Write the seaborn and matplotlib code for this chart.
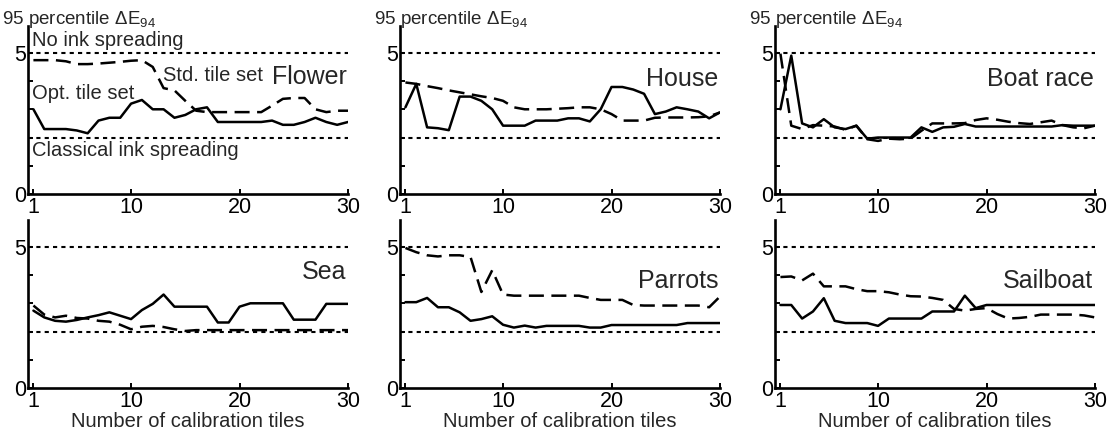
import numpy as np
import pandas as pd
import matplotlib
matplotlib.use("Agg")
import matplotlib.pyplot as plt
import seaborn as sns

sns.set_style("ticks")
plt.rcParams['font.family'] = ['Liberation Sans', 'DejaVu Sans']
plt.rcParams['mathtext.default'] = 'regular'

# ---------------- data ----------------
tiles = list(range(1, 31))
panels = ["Flower", "House", "Boat race", "Sea", "Parrots", "Sailboat"]

flower_opt = [3.0, 2.3, 2.3, 2.3, 2.25, 2.15, 2.6, 2.7, 2.7, 3.2, 3.33, 3.0, 3.0, 2.7, 2.8,
              3.0, 3.07, 2.55, 2.55, 2.55, 2.55, 2.55, 2.6, 2.45, 2.45, 2.55, 2.7, 2.55, 2.45, 2.55]
flower_std = [4.74, 4.74, 4.74, 4.7, 4.6, 4.6, 4.62, 4.65, 4.68, 4.72, 4.74, 4.5, 3.75, 3.67, 3.3,
              2.95, 2.9, 2.9, 2.9, 2.9, 2.9, 2.9, 3.13, 3.37, 3.4, 3.4, 3.0, 2.9, 2.95, 2.95]

house_opt = [3.07, 3.9, 2.36, 2.33, 2.26, 3.45, 3.45, 3.3, 3.0, 2.42, 2.42, 2.42, 2.6, 2.6, 2.6,
             2.68, 2.68, 2.57, 3.0, 3.79, 3.79, 3.7, 3.55, 2.83, 2.92, 3.07, 3.0, 2.92, 2.68, 2.89]
house_std = [3.95, 3.9, 3.82, 3.75, 3.67, 3.6, 3.53, 3.46, 3.4, 3.3, 3.07, 3.0, 3.0, 3.0, 3.02,
             3.04, 3.07, 3.07, 3.0, 2.83, 2.6, 2.6, 2.6, 2.7, 2.71, 2.71, 2.71, 2.72, 2.75, 2.89]

boat_opt = [3.0, 4.9, 2.5, 2.36, 2.65, 2.36, 2.3, 2.42, 1.96, 2.0, 2.0, 2.0, 2.0, 2.36, 2.2,
            2.36, 2.38, 2.48, 2.39, 2.39, 2.39, 2.39, 2.39, 2.39, 2.39, 2.39, 2.44, 2.42, 2.42, 2.42]
boat_std = [4.97, 2.42, 2.3, 2.44, 2.42, 2.39, 2.27, 2.42, 1.94, 1.88, 1.96, 1.94, 1.96, 2.24, 2.5,
            2.5, 2.5, 2.51, 2.62, 2.68, 2.63, 2.56, 2.51, 2.48, 2.54, 2.6, 2.44, 2.36, 2.33, 2.42]

sea_opt = [2.74, 2.5, 2.38, 2.35, 2.41, 2.5, 2.58, 2.68, 2.56, 2.44, 2.76, 2.98, 3.31, 2.88, 2.88,
           2.88, 2.88, 2.32, 2.32, 2.88, 3.0, 3.0, 3.0, 3.0, 2.42, 2.42, 2.42, 2.98, 2.98, 2.98]
sea_std = [2.92, 2.6, 2.5, 2.56, 2.48, 2.46, 2.38, 2.35, 2.24, 2.08, 2.17, 2.2, 2.16, 2.08, 2.02,
           2.05, 2.05, 2.05, 2.05, 2.05, 2.05, 2.05, 2.05, 2.05, 2.05, 2.05, 2.05, 2.05, 2.05, 2.05]

parrots_opt = [3.04, 3.04, 3.19, 2.86, 2.86, 2.68, 2.38, 2.44, 2.54, 2.24, 2.14, 2.21, 2.14, 2.2, 2.2,
               2.2, 2.2, 2.14, 2.14, 2.23, 2.23, 2.23, 2.23, 2.23, 2.23, 2.23, 2.3, 2.3, 2.3, 2.3]
parrots_std = [4.96, 4.81, 4.7, 4.66, 4.7, 4.7, 4.64, 3.4, 4.17, 3.31, 3.27, 3.27, 3.27, 3.27, 3.27,
               3.27, 3.27, 3.19, 3.12, 3.12, 3.12, 2.94, 2.92, 2.92, 2.92, 2.92, 2.92, 2.92, 2.86, 3.24]

sail_opt = [2.94, 2.94, 2.46, 2.71, 3.18, 2.38, 2.3, 2.3, 2.3, 2.2, 2.46, 2.46, 2.46, 2.46, 2.71,
            2.71, 2.71, 3.27, 2.83, 2.94, 2.94, 2.94, 2.94, 2.94, 2.94, 2.94, 2.94, 2.94, 2.94, 2.94]
sail_std = [3.93, 3.95, 3.81, 4.05, 3.6, 3.6, 3.6, 3.5, 3.43, 3.43, 3.39, 3.31, 3.25, 3.24, 3.19,
            3.12, 2.8, 2.74, 2.8, 2.83, 2.62, 2.46, 2.48, 2.52, 2.6, 2.6, 2.6, 2.6, 2.57, 2.5]

opt_series = [flower_opt, house_opt, boat_opt, sea_opt, parrots_opt, sail_opt]
std_series = [flower_std, house_std, boat_std, sea_std, parrots_std, sail_std]

no_ink_level = 5.0
classical_level = 2.0
ylabel_text = "95 percentile ΔE$_{94}$"
xlabel_text = "Number of calibration tiles"
xtick_vals = [1, 10, 20, 30]
ytick_vals = [0, 1, 2, 3, 4, 5]
ytick_labels = ["0", "", "", "", "", "5"]
title_y = [4.14, 4.08, 4.08, 4.1, 3.8, 3.8]

# ---------------- figure ----------------
W, H = 1112, 436
fig = plt.figure(figsize=(W / 100, H / 100), dpi=100)

lefts = [28, 400, 775]
axw = 320
bottoms = [194, 388]   # pixel y of the zero line (from top)
axh = 168

for i, name in enumerate(panels):
    r, c = divmod(i, 3)
    ax = fig.add_axes([lefts[c] / W, (H - bottoms[r]) / H, axw / W, axh / H])
    df = pd.DataFrame({"tiles": tiles, "opt": opt_series[i], "std": std_series[i]})
    ax.axhline(no_ink_level, color="black", lw=1.5, linestyle=(0, (2.0, 2.0)), zorder=1)
    ax.axhline(classical_level, color="black", lw=1.5, linestyle=(0, (2.0, 2.0)), zorder=1)
    sns.lineplot(data=df, x="tiles", y="std", ax=ax, color="black", lw=1.8,
                 linestyle=(0, (6, 3)), zorder=2)
    sns.lineplot(data=df, x="tiles", y="opt", ax=ax, color="black", lw=1.8, zorder=3)
    ax.set_xlim(0.5, 30)
    ax.set_ylim(0, 5.95)
    ax.set_xticks(xtick_vals)
    ax.set_xticklabels([str(v) for v in xtick_vals])
    ax.set_yticks(ytick_vals)
    ax.set_yticklabels(ytick_labels)
    ax.tick_params(direction="in", length=3.5, width=1.4, labelsize=15.5, pad=1.5,
                   colors="black")
    ax.tick_params(axis="x", pad=2)
    for s in ["top", "right"]:
        ax.spines[s].set_visible(False)
    for s in ["left", "bottom"]:
        ax.spines[s].set_linewidth(1.9)
        ax.spines[s].set_color("black")
    ax.set_xlabel(xlabel_text if r == 1 else "", fontsize=14.5, labelpad=0)
    ax.set_ylabel("")
    ax.text(0.995, title_y[i], name, transform=ax.get_yaxis_transform(),
            ha="right", va="center", fontsize=18)
    if r == 0:
        fig.text((lefts[c] - 26) / W, (H - 20) / H, ylabel_text, ha="left",
                 va="center", fontsize=13.5)
    if i == 0:
        ax.text(0.9, 5.45, "No ink spreading", fontsize=14.5, ha="left", va="center")
        ax.text(0.9, 1.53, "Classical ink spreading", fontsize=14.5, ha="left", va="center")
        ax.text(0.9, 3.55, "Opt. tile set", fontsize=14.5, ha="left", va="center")
        ax.text(12.9, 4.2, "Std. tile set", fontsize=14.5, ha="left", va="center")

fig.savefig("out.png", dpi=100)
